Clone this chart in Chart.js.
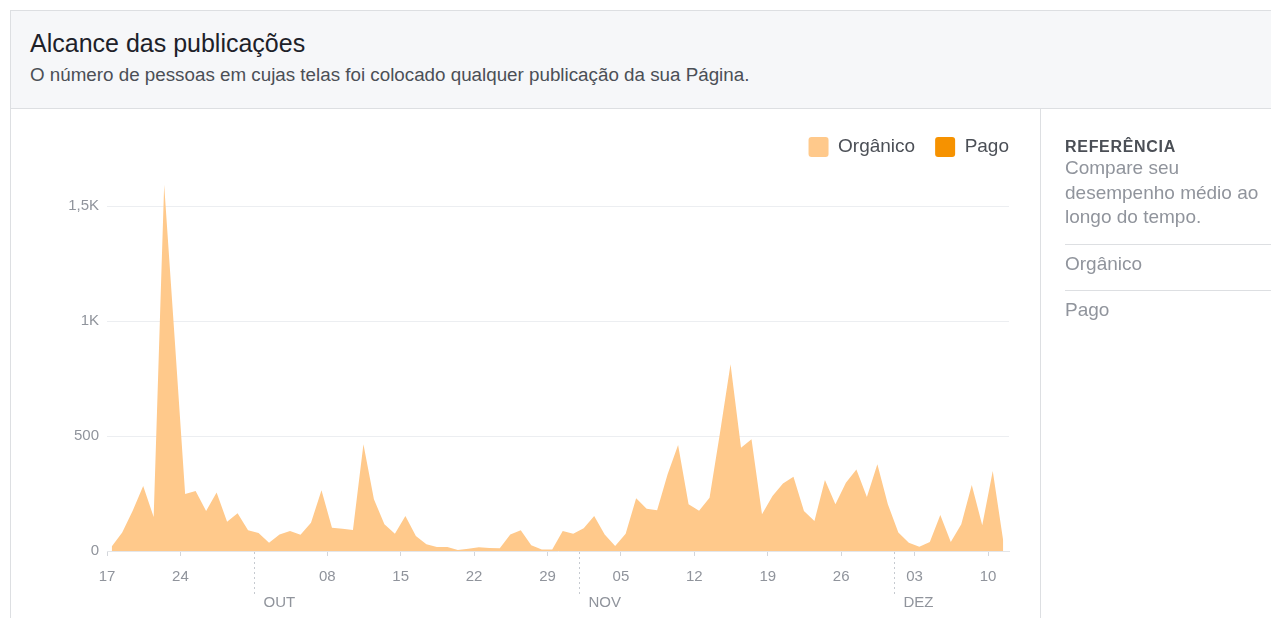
<!DOCTYPE html>
<html lang="pt-BR">
<head>
<meta charset="utf-8">
<title>Alcance das publicações</title>
<script src="https://cdn.jsdelivr.net/npm/chart.js@4.4.1/dist/chart.umd.min.js"></script>
<style>
  html, body { margin: 0; padding: 0; background: #fff; }
  body { width: 1271px; height: 618px; overflow: hidden; position: relative; font-family: "Liberation Sans", Arial, sans-serif; }
  .card { position: absolute; left: 10px; top: 10px; width: 1280px; height: 620px; border: 1px solid #dddfe2; box-sizing: border-box; }
  .topo { position: absolute; left: 0; top: 0; right: 0; height: 97px; background: #f6f7f9; border-bottom: 1px solid #dddfe2; }
  .titulo { position: absolute; left: 19px; top: 17px; font-size: 25px; line-height: 30px; color: #1d2129; }
  .sub { position: absolute; left: 19px; top: 53px; font-size: 18.8px; line-height: 22px; color: #4b4f56; }
  .grafico { position: absolute; left: 0; top: 98px; width: 1030px; height: 510px; }
  .painel { position: absolute; left: 1029px; top: 98px; width: 260px; height: 520px; border-left: 1px solid #dddfe2; }
  .painel .ref { position: absolute; left: 24px; top: 28px; font-size: 16px; font-weight: bold; letter-spacing: 0.7px; color: #4b4f56; line-height: 20px; }
  .painel .desc { position: absolute; left: 24px; top: 47px; width: 200px; font-size: 19px; line-height: 24.5px; color: #90949c; }
  .painel .item { position: absolute; left: 24px; width: 240px; font-size: 19px; line-height: 24px; color: #90949c; }
  .painel .linha { position: absolute; left: 24px; width: 240px; height: 0; border-top: 1px solid #dddfe2; }
</style>
</head>
<body>
<div class="card">
  <div class="topo">
    <div class="titulo">Alcance das publicações</div>
    <div class="sub">O número de pessoas em cujas telas foi colocado qualquer publicação da sua Página.</div>
  </div>
  <div class="grafico"><canvas id="alcance" width="1030" height="510"></canvas></div>
  <div class="painel">
    <div class="ref">REFERÊNCIA</div>
    <div class="desc">Compare seu desempenho médio ao longo do tempo.</div>
    <div class="linha" style="top:135px"></div>
    <div class="item" style="top:143px">Orgânico</div>
    <div class="linha" style="top:181px"></div>
    <div class="item" style="top:189px">Pago</div>
  </div>
</div>
<script>
// alcance diário, de 17/09 a 11/12
const organico = [
  20, 80, 175, 283, 148, 1592, 925, 248, 261, 174,
  254, 127, 164, 90, 78, 36, 72, 87, 71, 123,
  264, 101, 97, 91, 464, 225, 116, 75, 152, 65,
  29, 17, 17, 4, 10, 16, 13, 12, 72, 90,
  25, 7, 6, 87, 75, 99, 152, 72, 22, 75,
  229, 184, 177, 334, 461, 203, 175, 232, 515, 812,
  449, 486, 160, 239, 294, 323, 174, 130, 309, 203,
  297, 354, 235, 377, 203, 80, 36, 19, 39, 157,
  39, 116, 287, 112, 348, 45
];
const pago = [];

// marcas semanais (dias desde 17/09) e seus rótulos
const semanas = [0, 7, 14, 21, 28, 35, 42, 49, 56, 63, 70, 77, 84];
const rotulosSemana = ['17', '24', '', '08', '15', '22', '29', '05', '12', '19', '26', '03', '10'];
const meses = ['OUT', 'NOV', 'DEZ'];
const inicioMes = [14, 45, 75];
const valoresY = [0, 500, 1000, 1500];
const rotulosY = ['0', '500', '1K', '1,5K'];

const DESLOC = 0.45; // ponto do dia fica um pouco depois da marca

const cinza = '#90949c';

const marcasMes = {
    id: 'marcasMes',
    afterDraw(chart) {
        const { ctx, chartArea, scales: { x } } = chart;
        ctx.save();
        ctx.strokeStyle = '#c6cad0';
        ctx.lineWidth = 1;
        ctx.setLineDash([2, 3]);
        ctx.font = '15px "Liberation Sans", Arial, sans-serif';
        ctx.fillStyle = cinza;
        ctx.textBaseline = 'middle';
        inicioMes.forEach((d, k) => {
            const px = Math.round(x.getPixelForValue(d)) + 0.5;
            ctx.beginPath();
            ctx.moveTo(px, chartArea.bottom + 1);
            ctx.lineTo(px, chartArea.bottom + 43);
            ctx.stroke();
            ctx.fillText(meses[k], px + 9, chartArea.bottom + 52);
        });
        ctx.restore();
    }
};

// legenda: mais espaço embaixo e encostada na borda direita do gráfico
const ajusteLegenda = {
    id: 'ajusteLegenda',
    beforeInit(chart) {
        const legenda = chart.legend;
        const fit = legenda.fit;
        legenda.fit = function () {
            fit.apply(this, arguments);
            this.height += 16;
        };
        const draw = legenda.draw;
        legenda.draw = function () {
            const c = this.ctx;
            c.save();
            c.translate(this.options.labels.padding, 0);
            draw.apply(this, arguments);
            c.restore();
        };
    }
};

Chart.defaults.font.family = '"Liberation Sans", Arial, sans-serif';

new Chart(document.getElementById('alcance'), {
    type: 'line',
    data: {
        datasets: [{
            label: 'Orgânico',
            data: organico.map((v, i) => ({ x: i + DESLOC, y: v })),
            backgroundColor: 'rgb(255, 201, 139)',
            borderColor: 'rgb(255, 201, 139)',
            borderWidth: 0,
            fill: 'origin',
            pointRadius: 0,
            tension: 0
        }, {
            label: 'Pago',
            data: pago,
            backgroundColor: 'rgb(246, 146, 0)',
            borderColor: 'rgb(246, 146, 0)',
            borderWidth: 0,
            fill: 'origin',
            pointRadius: 0
        }]
    },
    plugins: [marcasMes, ajusteLegenda],
    options: {
        responsive: false,
        animation: false,
        layout: {
            padding: { top: 8, right: 32, left: 0, bottom: 0 }
        },
        plugins: {
            tooltip: { enabled: false },
            legend: {
                display: true,
                position: 'top',
                align: 'end',
                labels: {
                    boxWidth: 20,
                    boxHeight: 20,
                    padding: 20,
                    useBorderRadius: true,
                    borderRadius: 3,
                    color: '#4b4f56',
                    font: { size: 19 }
                }
            }
        },
        scales: {
            x: {
                type: 'linear',
                min: 0,
                max: 86,
                afterBuildTicks: s => { s.ticks = semanas.map(v => ({ value: v })); },
                afterFit: s => { s.height = 68; },
                ticks: {
                    callback: (v, i) => rotulosSemana[i],
                    color: cinza,
                    font: { size: 15 },
                    padding: 12,
                    maxRotation: 0,
                    autoSkip: false
                },
                grid: {
                    drawOnChartArea: false,
                    drawTicks: true,
                    tickLength: 5,
                    color: ctx => (ctx.tick && ctx.tick.value === 14) ? 'rgba(0,0,0,0)' : '#d3d6db'
                },
                border: { color: '#e4e6e9' }
            },
            y: {
                min: 0,
                max: 1600,
                afterBuildTicks: s => { s.ticks = valoresY.map(v => ({ value: v })); },
                afterFit: s => { s.width = 96; },
                ticks: {
                    callback: (v, i) => rotulosY[i],
                    color: cinza,
                    font: { size: 15 },
                    padding: 8
                },
                grid: {
                    drawTicks: false,
                    color: ctx => (ctx.tick && ctx.tick.value === 0) ? 'rgba(0,0,0,0)' : '#eceef1'
                },
                border: { display: false }
            }
        }
    }
});
</script>
</body>
</html>
